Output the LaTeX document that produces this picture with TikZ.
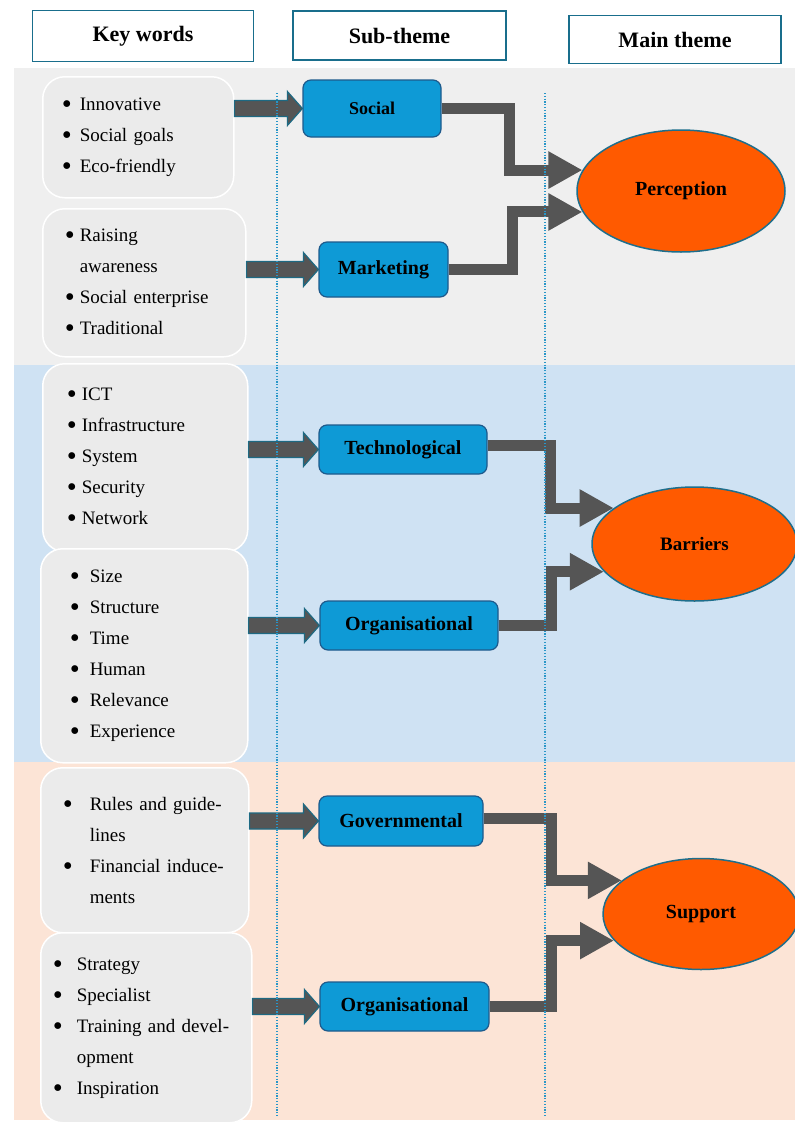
\documentclass[tikz,border=0pt]{standalone}
\usepackage{fontspec}
\setmainfont{Liberation Serif}
\usetikzlibrary{shapes.geometric,arrows.meta,calc}

\definecolor{bandgrey}{RGB}{239,239,239}
\definecolor{bandblue}{RGB}{207,226,243}
\definecolor{bandpeach}{RGB}{252,228,214}
\definecolor{kwfill}{RGB}{235,235,235}
\definecolor{subfill}{RGB}{14,154,214}
\definecolor{subdraw}{RGB}{30,90,140}
\definecolor{ellfill}{RGB}{255,90,0}
\definecolor{elldraw}{RGB}{30,110,140}
\definecolor{arrgrey}{RGB}{85,85,85}
\definecolor{arrline}{RGB}{30,105,130}
\definecolor{hdraw}{RGB}{25,110,140}
\definecolor{guidecol}{RGB}{40,150,200}

\newcommand{\kwb}[1]{\makebox[#1][l]{\raisebox{-3pt}{\scalebox{1.5}{\textbullet}}}}
\newcommand{\inarrow}[2]{%
  \draw[inarr] let \p1=(#1.east), \p2=(#2.west) in
    (\x1,\y2+8pt) -- (\x2-15pt,\y2+8pt) -- (\x2-15pt,\y2+17pt) -- (\x2,\y2)
    -- (\x2-15pt,\y2-17pt) -- (\x2-15pt,\y2-8pt) -- (\x1,\y2-8pt) -- cycle;}

\begin{document}
\begin{tikzpicture}[x=1pt,y=-1pt,
    head/.style={draw=hdraw, line width=1.8pt, fill=white, inner sep=0pt,
      font=\fontsize{22}{26}\selectfont\bfseries},
    kwbox/.style={draw=white, line width=1.5pt, fill=kwfill, rounded corners=22pt,
      anchor=north west, align=left, inner ysep=0pt, font=\fontsize{19}{31}\selectfont},
    subbox/.style={draw=subdraw, line width=1.2pt, fill=subfill, rounded corners=8pt,
      inner sep=0pt, font=\fontsize{20}{24}\selectfont\bfseries},
    theme/.style={ellipse, draw=elldraw, line width=1.5pt, fill=ellfill, inner sep=0pt,
      font=\fontsize{20}{24}\selectfont\bfseries},
    inarr/.style={draw=arrline, line width=1.2pt, fill=arrgrey},
    outarr/.style={draw=arrgrey, line width=11pt, -{Triangle[length=34pt,width=35pt]}},
    guide/.style={draw=guidecol, line width=1.2pt, dash pattern=on 1.2pt off 1.6pt}]
  \useasboundingbox (0,0) rectangle (795,1122);
  \fill[white] (0,0) rectangle (795,1122);
  \fill[bandgrey] (14,68) rectangle (795,365);
  \fill[bandblue] (14,365) rectangle (795,762);
  \fill[bandpeach] (14,762) rectangle (795,1120);

  \node[head, minimum width=221pt, minimum height=51pt] (hkey) at (143,36) {Key words};
  \node[head, minimum width=213pt, minimum height=49pt] (hsub) at (399.5,35.5) {Sub-theme};
  \node[head, minimum width=212pt, minimum height=48pt] (hmain) at (675,39.5) {Main theme};

  \node[kwbox, text width=153pt, inner xsep=19pt, minimum height=121pt] (kw1) at (42,76)
    {\kwb{18pt}Innovative\\ \kwb{18pt}Social goals\\ \kwb{18pt}Eco-friendly};
  \node[kwbox, text width=159pt, inner xsep=22pt, minimum height=148pt] (kw2) at (42,208)
    {\kwb{15pt}Raising\\ \hspace*{15pt}awareness\\ \kwb{15pt}Social enterprise\\ \kwb{15pt}Traditional};
  \node[kwbox, text width=157pt, inner xsep=24pt, minimum height=188pt] (kw3) at (42,363)
    {\kwb{15pt}ICT\\ \kwb{15pt}Infrastructure\\ \kwb{15pt}System\\ \kwb{15pt}Security\\ \kwb{15pt}Network};
  \node[kwbox, text width=149pt, inner xsep=29pt, minimum height=214pt] (kw4) at (40,548)
    {\kwb{20pt}Size\\ \kwb{20pt}Structure\\ \kwb{20pt}Time\\ \kwb{20pt}Human\\ \kwb{20pt}Relevance\\ \kwb{20pt}Experience};
  \node[kwbox, text width=164pt, inner xsep=22pt, minimum height=165pt] (kw5) at (40,767)
    {\kwb{27pt}Rules and guide-\\ \hspace*{27pt}lines\\ \kwb{27pt}Financial induce-\\ \hspace*{27pt}ments};
  \node[kwbox, text width=187pt, inner xsep=12pt, minimum height=190pt] (kw6) at (40,932)
    {\kwb{24pt}Strategy\\ \kwb{24pt}Specialist\\ \kwb{24pt}Training and devel-\\ \hspace*{24pt}opment\\ \kwb{24pt}Inspiration};

  \node[subbox, minimum width=138pt, minimum height=57pt, font=\fontsize{18}{22}\selectfont\bfseries] (soc) at (372,108.5) {Social};
  \node[subbox, minimum width=129pt, minimum height=55pt] (mkt) at (383.5,269.5) {Marketing};
  \node[subbox, minimum width=168pt, minimum height=49pt] (tech) at (403,449.5) {Technological};
  \node[subbox, minimum width=178pt, minimum height=49pt] (org) at (409,625.5) {Organisational};
  \node[subbox, minimum width=164pt, minimum height=50pt] (gov) at (401,821) {Governmental};
  \node[subbox, minimum width=169pt, minimum height=49pt] (orgs) at (404.5,1006.5) {Organisational};

  \node[theme, minimum width=208pt, minimum height=122pt] (perc) at (681,191) {Perception};
  \node[theme, minimum width=205pt, minimum height=114pt, font=\fontsize{19}{23}\selectfont\bfseries] (barr) at (694.5,544) {Barriers};
  \node[theme, minimum width=196pt, minimum height=111pt] (supp) at (701,914) {Support};

  \inarrow{kw1}{soc}
  \inarrow{kw2}{mkt}
  \inarrow{kw3}{tech}
  \inarrow{kw4}{org}
  \inarrow{kw5}{gov}
  \inarrow{kw6}{orgs}

  \draw[outarr] (soc.east) -- ++(67.5,0) |- (perc.168);
  \draw[outarr] (mkt.east) -- ++(64,0) |- (perc.192);
  \draw[outarr] ([yshift=4pt]tech.east) -- ++(62.5,0) |- (barr.156);
  \draw[outarr] (org.east) -- ++(53,0) |- (barr.197);
  \draw[outarr] ([yshift=3pt]gov.east) -- ++(68,0) |- (supp.157);
  \draw[outarr] (orgs.east) -- ++(62,0) |- (supp.197);

  \draw[guide] (277,93) -- (277,1117);
  \draw[guide] (545,93) -- (545,1117);
\end{tikzpicture}
\end{document}
